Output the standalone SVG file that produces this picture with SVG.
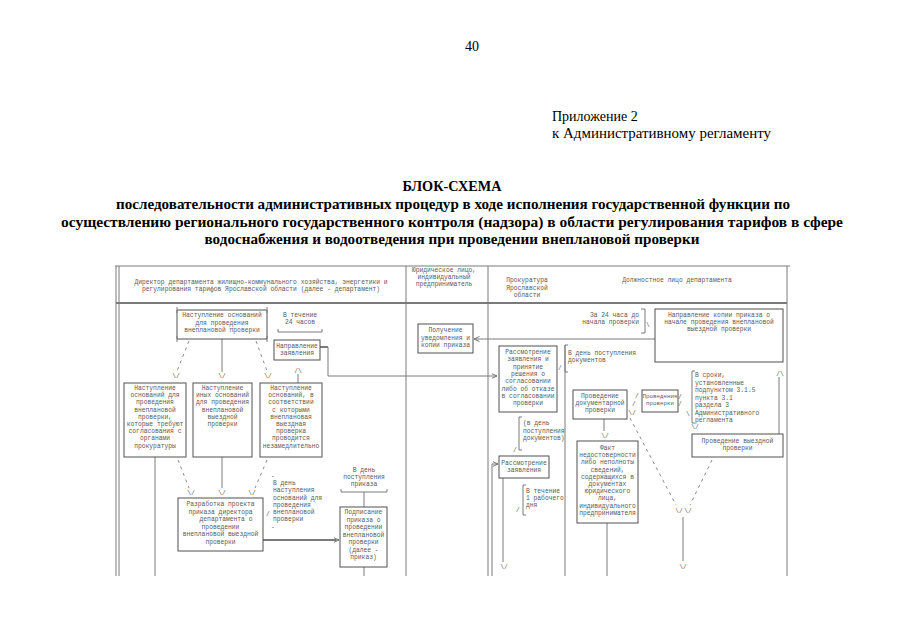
<svg xmlns="http://www.w3.org/2000/svg" width="905" height="640" viewBox="0 0 905 640">
<style>
.t{font-family:"Liberation Mono","DejaVu Sans Mono",monospace;font-size:6.3px;fill:#5a5a5a}
.c{text-anchor:middle}
.e{text-anchor:end}
.b{fill:#fff;stroke:#505050;stroke-width:1}
.l{fill:none;stroke:#7a7a7a;stroke-width:1}
.w{fill:none;stroke:#7a7a7a;stroke-width:2}
.d{fill:none;stroke:#8a8a8a;stroke-width:1;stroke-dasharray:3 4}
.s{font-family:"Liberation Serif","Times New Roman",serif;fill:#000}
.h{font-family:"Liberation Serif","Times New Roman",serif;font-weight:bold;fill:#000;text-anchor:middle}
</style>
<defs>
<marker id="arr" markerWidth="6" markerHeight="6" refX="5.5" refY="3" orient="auto" markerUnits="userSpaceOnUse">
<path d="M0,0.5 L5.5,3 L0,5.5" fill="none" stroke="#6a6a6a" stroke-width="0.9"/>
</marker>
</defs>
<rect width="905" height="640" fill="#fff"/>

<g id="page-header">
<text class="s" x="472" y="51" font-size="14" text-anchor="middle">40</text>
<text class="s" x="552" y="121" font-size="14">Приложение 2</text>
<text class="s" x="552" y="138" font-size="14" textLength="219" lengthAdjust="spacingAndGlyphs">к Административному регламенту</text>
<text class="h" x="452" y="191" font-size="15" textLength="99" lengthAdjust="spacingAndGlyphs">БЛОК-СХЕМА</text>
<text class="h" x="453" y="209" font-size="14.5" textLength="674" lengthAdjust="spacingAndGlyphs">последовательности административных процедур в ходе исполнения государственной функции по</text>
<text class="h" x="452" y="227" font-size="14.5" textLength="782" lengthAdjust="spacingAndGlyphs">осуществлению регионального государственного контроля (надзора) в области регулирования тарифов в сфере</text>
<text class="h" x="452" y="244" font-size="14.5" textLength="495" lengthAdjust="spacingAndGlyphs">водоснабжения и водоотведения при проведении внеплановой проверки</text>
</g>

<g id="table-frame">
<path class="l" d="M115 266 H790"/>
<path class="l" d="M116 266 V576 M119 266 V576"/>
<path class="l" d="M787 266 V576"/>
<path class="w" d="M116 303 H787"/>
<path class="l" d="M406 266 V576 M488 266 V576 M565 345 V576"/>
<text class="t c" x="261" y="284">Директор департамента жилищно-коммунального хозяйства, энергетики и</text>
<text class="t c" x="261" y="291">регулирования тарифов Ярославской области (далее - департамент)</text>
<text class="t c" x="444" y="272">Юридическое лицо,</text>
<text class="t c" x="444" y="279">индивидуальный</text>
<text class="t c" x="444" y="286">предприниматель</text>
<text class="t c" x="527" y="282">Прокуратура</text>
<text class="t c" x="527" y="290">Ярославской</text>
<text class="t c" x="527" y="297">области</text>
<text class="t c" x="677" y="282">Должностное лицо департамента</text>
</g>

<g id="connectors">
<path class="d" d="M189 341 L177 371"/>
<text class="t c" x="176" y="378">\/</text>
<path class="l" d="M222 339 V372"/>
<text class="t c" x="222" y="378">\/</text>
<path class="d" d="M256 341 L267 371"/>
<text class="t c" x="268" y="378">\/</text>
<text class="t c" x="298" y="373">/\</text>
<path class="l" d="M298 374 V383"/>
<path class="w" d="M320 347 H328"/>
<path class="l" d="M328 347 V376 H497" marker-end="url(#arr)"/>
<path class="l" d="M155 457 V576"/>
<path class="d" d="M178 460 L189 488"/>
<text class="t c" x="191" y="495">\/</text>
<path class="l" d="M222 457 V488"/>
<text class="t c" x="222" y="495">\/</text>
<path class="d" d="M267 460 L255 488"/>
<text class="t c" x="252" y="495">\/</text>
<path class="w" d="M263 540 H336"/>
<path class="l" d="M336 540 H339" marker-end="url(#arr)"/>
<path class="l" d="M364 492 V507 M364 567 V576"/>
<path class="l" d="M655 339 H474" marker-end="url(#arr)"/>
<path class="l" d="M492 576 V464 H498" marker-end="url(#arr)"/>
<path class="l" d="M503 478 V562"/>
<text class="t c" x="504" y="569">\/</text>
<path class="l" d="M604 419 V431"/>
<text class="t c" x="605" y="438">\/</text>
<path class="l" d="M607 523 V576"/>
<text class="t" x="635" y="398">/</text>
<text class="t" x="632" y="406">/</text>
<text class="t c" x="632" y="415">\/</text>
<text class="t" x="678" y="399">/</text>
<text class="t" x="678" y="406">/</text>
<text class="t" x="686" y="416">\</text>
<path class="d" d="M630 418 L676 505"/>
<path class="d" d="M712 460 L690 505"/>
<text class="t c" x="679" y="513">\/</text>
<text class="t c" x="688" y="513">\/</text>
<path class="l" d="M683 517 V561"/>
<text class="t c" x="683" y="569">\/</text>
<text class="t c" x="780" y="376">/\</text>
<path class="l" d="M779 377 V434"/>
</g>

<g id="n-grounds">
<path class="b" d="M177 310 H267 V339 H177 Z"/>
<path class="l" d="M177 307 V313 M267 307 V313 M177 336 V342 M267 336 V342"/>
<text class="t c" x="222" y="317">Наступление оснований</text>
<text class="t c" x="222" y="324.5">для проведения</text>
<text class="t c" x="222" y="332">внеплановой проверки</text>
</g>

<g id="n-24h">
<text class="t c" x="300" y="317">В течение</text>
<text class="t c" x="300" y="324">24 часов</text>
<path class="l" d="M278 329 V332 H322 V329"/>
</g>

<g id="n-napravlenie-zayavleniya">
<rect class="b" x="274" y="340" width="46" height="20"/>
<text class="t c" x="297" y="348">Направление</text>
<text class="t c" x="297" y="355">заявления</text>
</g>

<g id="n-poluchenie">
<rect class="b" x="418" y="324" width="55" height="29"/>
<text class="t c" x="445.5" y="332">Получение</text>
<text class="t c" x="445.5" y="339.5">уведомления и</text>
<text class="t c" x="445.5" y="347">копии приказа</text>
</g>

<g id="n-box-a">
<rect class="b" x="124" y="383" width="62" height="74"/>
<text class="t c" x="155" y="390">Наступление</text>
<text class="t c" x="155" y="397.2">оснований для</text>
<text class="t c" x="155" y="404.4">проведения</text>
<text class="t c" x="155" y="411.6">внеплановой</text>
<text class="t c" x="155" y="418.8">проверки,</text>
<text class="t c" x="155" y="426">которые требуют</text>
<text class="t c" x="155" y="433.2">согласования с</text>
<text class="t c" x="155" y="440.4">органами</text>
<text class="t c" x="155" y="447.6">прокуратуры</text>
</g>

<g id="n-box-b">
<rect class="b" x="193" y="383" width="59" height="74"/>
<text class="t c" x="222.5" y="390">Наступление</text>
<text class="t c" x="222.5" y="397.2">иных оснований</text>
<text class="t c" x="222.5" y="404.4">для проведения</text>
<text class="t c" x="222.5" y="411.6">внеплановой</text>
<text class="t c" x="222.5" y="418.8">выездной</text>
<text class="t c" x="222.5" y="426">проверки</text>
</g>

<g id="n-box-c">
<rect class="b" x="260" y="383" width="62" height="74"/>
<text class="t c" x="291" y="390">Наступление</text>
<text class="t c" x="291" y="397.2">оснований, в</text>
<text class="t c" x="291" y="404.4">соответствии</text>
<text class="t c" x="291" y="411.6">с которыми</text>
<text class="t c" x="291" y="418.8">внеплановая</text>
<text class="t c" x="291" y="426">выездная</text>
<text class="t c" x="291" y="433.2">проверка</text>
<text class="t c" x="291" y="440.4">проводится</text>
<text class="t c" x="291" y="447.6">незамедлительно</text>
</g>

<g id="n-razrabotka">
<rect class="b" x="178" y="498" width="85" height="53"/>
<text class="t c" x="220.5" y="506">Разработка проекта</text>
<text class="t c" x="220.5" y="513.5">приказа директора</text>
<text class="t c" x="226" y="521">департамента о</text>
<text class="t c" x="220.5" y="528.5">проведении</text>
<text class="t c" x="220.5" y="536">внеплановой выездной</text>
<text class="t c" x="220.5" y="543.5">проверки</text>
</g>

<g id="n-v-den-nastupleniya">
<text class="t" x="271" y="478">-</text>
<text class="t" x="273" y="485">В день</text>
<text class="t" x="273" y="492">наступления</text>
<text class="t" x="273" y="499.5">оснований для</text>
<text class="t" x="273" y="507">проведения</text>
<text class="t" x="273" y="514">внеплановой</text>
<text class="t" x="273" y="521">проверки</text>
<text class="t" x="266" y="516">/</text>
<text class="t" x="271" y="529">-</text>
</g>

<g id="n-v-den-prikaza">
<text class="t c" x="364" y="472">В день</text>
<text class="t c" x="364" y="479">поступления</text>
<text class="t c" x="364" y="486">приказа</text>
<path class="l" d="M341 489 V492 H387 V489"/>
</g>

<g id="n-podpisanie">
<rect class="b" x="340" y="507" width="47" height="60"/>
<text class="t c" x="363.5" y="514">Подписание</text>
<text class="t c" x="363.5" y="521.5">приказа о</text>
<text class="t c" x="363.5" y="529">проведении</text>
<text class="t c" x="363.5" y="536.5">внеплановой</text>
<text class="t c" x="363.5" y="544">проверки</text>
<text class="t c" x="363.5" y="551.5">(далее -</text>
<text class="t c" x="363.5" y="559">приказ)</text>
</g>

<g id="n-za-24-chasa">
<text class="t e" x="639" y="317">За 24 часа до</text>
<text class="t e" x="639" y="324">начала проверки</text>
<path class="l" d="M641 309 H645 V333 H641"/>
<text class="t" x="646" y="327">\</text>
</g>

<g id="n-napravlenie-kopii">
<rect class="b" x="655" y="309" width="128" height="53"/>
<text class="t c" x="719" y="317">Направление копии приказа о</text>
<text class="t c" x="719" y="324">начале проведения внеплановой</text>
<text class="t c" x="719" y="331">выездной проверки</text>
</g>

<g id="n-rassmotrenie">
<rect class="b" x="499" y="346" width="58" height="66"/>
<text class="t c" x="528" y="354">Рассмотрение</text>
<text class="t c" x="528" y="361.3">заявления и</text>
<text class="t c" x="528" y="368.6">принятие</text>
<text class="t c" x="528" y="375.9">решения о</text>
<text class="t c" x="528" y="383.2">согласовании</text>
<text class="t c" x="528" y="390.5">либо об отказе</text>
<text class="t c" x="528" y="397.8">в согласовании</text>
<text class="t c" x="528" y="405.1">проверки</text>
</g>

<g id="n-v-den-dokumentov">
<path class="l" d="M568 345 H565 V372 H568"/>
<text class="t" x="568" y="355">В день поступления</text>
<text class="t" x="568" y="362">документов</text>
<text class="t" x="558" y="370">/</text>
</g>

<g id="n-v-den-dokumentov-2">
<path class="l" d="M522 417 H519 V450 H522"/>
<text class="t" x="523" y="425">(в день</text>
<text class="t" x="523" y="432.5">поступления</text>
<text class="t" x="523" y="440">документов)</text>
<text class="t" x="513" y="452">/</text>
</g>

<g id="n-rassmotrenie-2">
<rect class="b" x="499" y="456" width="50" height="22"/>
<text class="t c" x="524" y="465">Рассмотрение</text>
<text class="t c" x="524" y="472">заявления</text>
</g>

<g id="n-1-den">
<path class="l" d="M526 485 H523 V515 H526"/>
<text class="t" x="526" y="493">В течение</text>
<text class="t" x="526" y="500">1 рабочего</text>
<text class="t" x="526" y="507">дня</text>
<text class="t" x="516" y="512">/</text>
</g>

<g id="n-dokumentarnaya">
<rect class="b" x="573" y="390" width="54" height="29"/>
<text class="t c" x="600" y="398">Проведение</text>
<text class="t c" x="600" y="405">документарной</text>
<text class="t c" x="600" y="412">проверки</text>
</g>

<g id="n-provedenie-proverki">
<rect class="b" x="642" y="390" width="36" height="22"/>
<text class="t c" x="660" y="398" style="font-size:5.8px">Проведение</text>
<text class="t c" x="660" y="405" style="font-size:5.8px">проверки</text>
</g>

<g id="n-v-sroki">
<path class="l" d="M695 371 H692 V423 H695"/>
<text class="t" x="695" y="377">В сроки,</text>
<text class="t" x="695" y="384.5">установленные</text>
<text class="t" x="695" y="392">подпунктом 3.1.5</text>
<text class="t" x="695" y="399.5">пункта 3.1</text>
<text class="t" x="695" y="407">раздела 3</text>
<text class="t" x="695" y="414.5">Административного</text>
<text class="t" x="695" y="422">регламента</text>
<text class="t c" x="695" y="429">\/</text>
</g>

<g id="n-vyezdnaya">
<rect class="b" x="692" y="434" width="91" height="23"/>
<text class="t c" x="737.5" y="443">Проведение выездной</text>
<text class="t c" x="737.5" y="450">проверки</text>
</g>

<g id="n-fakt">
<rect class="b" x="577" y="441" width="61" height="82"/>
<text class="t c" x="607.5" y="450">Факт</text>
<text class="t c" x="607.5" y="457.2">недостоверности</text>
<text class="t c" x="607.5" y="464.4">либо неполноты</text>
<text class="t c" x="607.5" y="471.6">сведений,</text>
<text class="t c" x="607.5" y="478.8">содержащихся в</text>
<text class="t c" x="607.5" y="486">документах</text>
<text class="t c" x="607.5" y="493.2">юридического</text>
<text class="t c" x="607.5" y="500.4">лица,</text>
<text class="t c" x="607.5" y="507.6">индивидуального</text>
<text class="t c" x="607.5" y="514.8">предпринимателя</text>
</g>
</svg>
